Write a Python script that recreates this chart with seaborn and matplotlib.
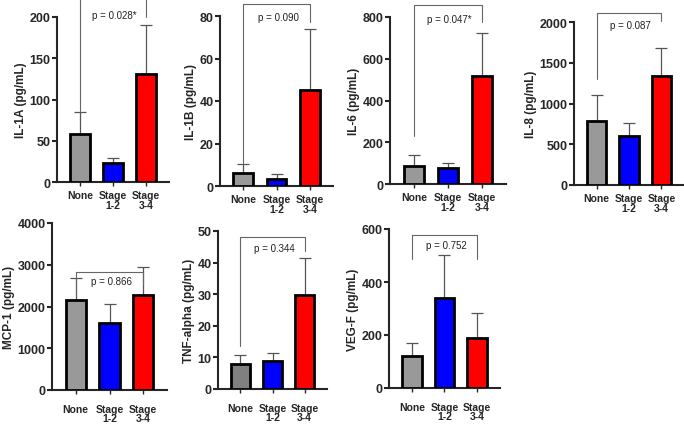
import matplotlib
matplotlib.use('Agg')
import matplotlib.pyplot as plt
import seaborn as sns
import numpy as np
import pandas as pd

# groups and colours
groups = ['None', 'Stage\n1-2', 'Stage\n3-4']
bar_colors = ['#999999', '#0000FF', '#FF0000']

# mean values per cytokine
il1a_mean = [58, 23, 131]
il1a_sd = [27, 6, 59]
il1b_mean = [6, 3.5, 45]
il1b_sd = [4.5, 2.0, 29]
il6_mean = [85, 75, 515]
il6_sd = [55, 25, 210]
il8_mean = [780, 600, 1335]
il8_sd = [330, 155, 345]
mcp1_mean = [2150, 1610, 2280]
mcp1_sd = [540, 450, 660]
tnf_mean = [7.8, 9.0, 29.8]
tnf_sd = [3.1, 2.5, 11.5]
vegf_mean = [120, 338, 190]
vegf_sd = [48, 165, 93]

p_labels = ['p = 0.028*', 'p = 0.090', 'p = 0.047*', 'p = 0.087',
            'p = 0.866', 'p = 0.344', 'p = 0.752']
# bracket: left leg bottom, top, right leg bottom, text y
brackets = [(86, 222, 200, 202),
            (11, 85.8, 77, 79.5),
            (230, 859, 776, 792),
            (1300, 2110, 2010, 1963),
            (2250, 2833, 2515, 2620),
            (13.6, 48, 43.8, 44.5),
            (487, 577, 487, 540)]

panels = [
    ('IL-1A (pg/mL)', il1a_mean, il1a_sd, 200, 50),
    ('IL-1B (pg/mL)', il1b_mean, il1b_sd, 80, 20),
    ('IL-6 (pg/mL)', il6_mean, il6_sd, 800, 200),
    ('IL-8 (pg/mL)', il8_mean, il8_sd, 2000, 500),
    ('MCP-1 (pg/mL)', mcp1_mean, mcp1_sd, 4000, 1000),
    ('TNF-alpha (pg/mL)', tnf_mean, tnf_sd, 50, 10),
    ('VEG-F (pg/mL)', vegf_mean, vegf_sd, 600, 200),
]

# axes boxes in pixels: left, top, right, bottom
boxes = [(57, 18, 169, 183), (220, 17, 333, 187), (390, 18, 506, 185),
         (574, 23, 684, 186), (52, 224, 167, 391), (218, 232, 327, 390),
         (389, 230, 500, 389)]

sns.set_style('ticks')
plt.rcParams['font.family'] = ['Liberation Sans', 'DejaVu Sans']

W, H = 684, 427
fig = plt.figure(figsize=(W / 100, H / 100), dpi=100)

for i, (ylab, mean, sd, ymax, step) in enumerate(panels):
    l, t, r, b = boxes[i]
    ax = fig.add_axes([l / W, 1 - b / H, (r - l) / W, (b - t) / H])
    df = pd.DataFrame({'group': groups, 'value': mean})
    cols = list(bar_colors)
    if i == 5:
        cols[0] = '#808080'
    sns.barplot(data=df, x='group', y='value', hue='group', palette=cols,
                legend=False, ax=ax, width=0.6, edgecolor='black',
                linewidth=2.0, saturation=1, zorder=3)
    x = np.arange(len(groups))
    ax.errorbar(x, mean, yerr=[np.zeros(len(sd)), sd], fmt='none',
                ecolor='#555555', elinewidth=0.9, capsize=4, capthick=0.9,
                zorder=2)
    ax.set_xlim(-0.7, 2.7)
    ax.set_ylim(0, ymax)
    ax.set_yticks(np.arange(0, ymax + step / 2, step))
    ax.set_xlabel('')
    ax.set_ylabel(ylab, fontsize=8.5, fontweight='bold', labelpad=2)
    sns.despine(ax=ax)
    for s in ['left', 'bottom']:
        ax.spines[s].set_linewidth(1.5)
    ax.tick_params(axis='y', length=3.5, width=1.5, labelsize=9, pad=1)
    ax.tick_params(axis='x', length=3, width=1.0, labelsize=7.5,
                   pad=3 if i < 4 else 7)
    for lab in ax.get_xticklabels() + ax.get_yticklabels():
        lab.set_fontweight('bold')
    for lab in ax.get_xticklabels():
        lab.set_linespacing(0.95)

    lb, top, rb, ty = brackets[i]
    ax.plot([0, 0, 2, 2], [lb, top, top, rb], color='#666666', lw=0.8,
            clip_on=False, zorder=4)
    ax.text(1.05, ty, p_labels[i], ha='center', va='center', fontsize=7,
            color='#222222')

fig.savefig('out.png', dpi=100)
